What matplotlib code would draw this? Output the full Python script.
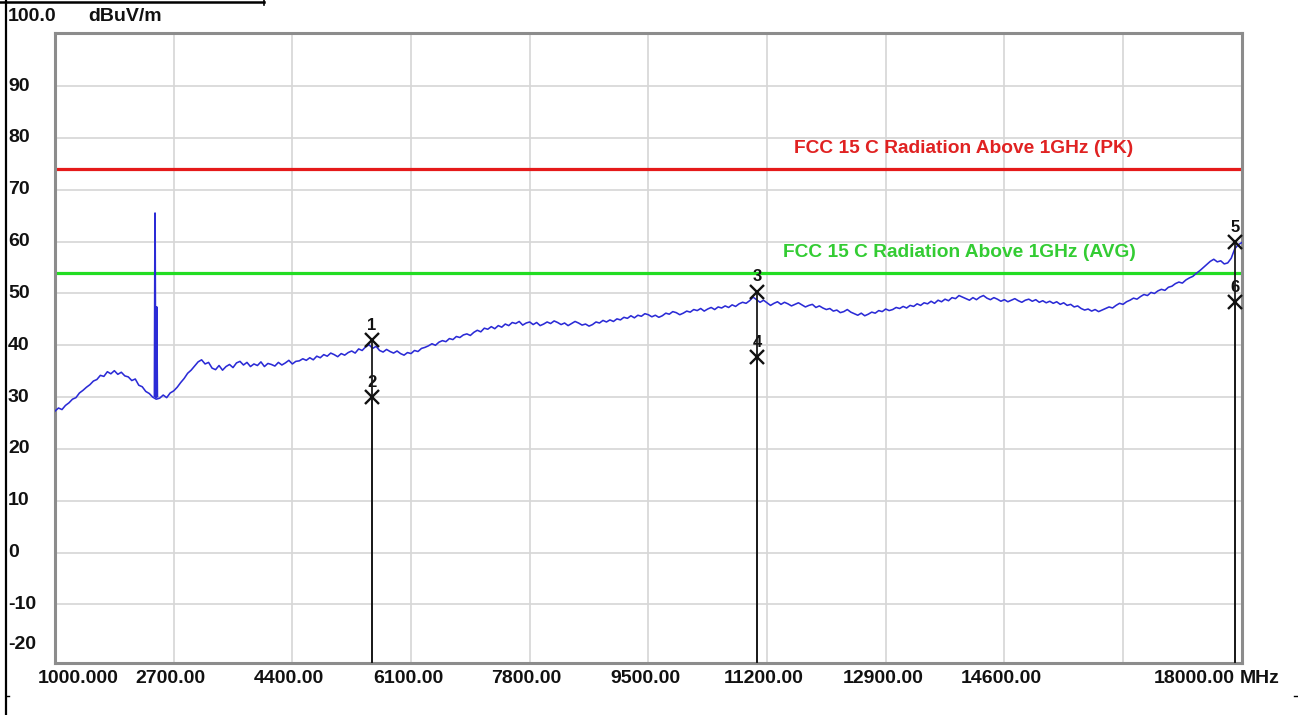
import numpy as np
import matplotlib
matplotlib.use("Agg")
import matplotlib.pyplot as plt
from matplotlib import font_manager
from matplotlib.lines import Line2D
from matplotlib.transforms import blended_transform_factory, ScaledTranslation

# ---- sweep data: field strength (dBuV/m), 1000..18000 MHz in 50 MHz steps ----
trace_level = [
    27.3, 27.9, 27.6, 28.4, 28.9, 29.6, 29.9, 30.8, 31.3, 31.9, 32.4, 33.1, 33.4, 34.2, 34.0, 34.9, 34.5, 35.1, 34.4, 34.8,
    34.1, 33.9, 33.2, 33.5, 32.3, 32.0, 31.1, 30.7, 30.0, 29.6, 29.8, 30.4, 29.9, 30.8, 31.2, 31.9, 32.8, 33.6, 34.6, 35.2,
    36.0, 36.8, 37.2, 36.4, 36.7, 35.6, 35.3, 36.1, 35.2, 35.9, 36.3, 35.7, 36.6, 36.9, 36.2, 36.7, 35.9, 36.4, 36.1, 36.8,
    35.9, 36.5, 36.3, 36.0, 36.7, 36.2, 36.6, 37.1, 36.4, 36.9, 37.0, 37.4, 37.1, 37.6, 37.2, 37.9, 37.6, 38.2, 37.9, 38.5,
    38.2, 37.8, 38.4, 38.1, 38.6, 38.9, 38.5, 39.3, 39.0, 39.7, 40.1, 39.4, 39.8, 39.0, 38.7, 39.2, 38.8, 38.5, 38.9, 38.4,
    38.1, 38.6, 38.4, 39.0, 38.8, 39.4, 39.6, 39.9, 40.3, 40.0, 40.6, 40.9, 40.7, 41.3, 41.1, 41.7, 41.5, 42.0, 42.2, 41.9,
    42.5, 42.9, 42.6, 43.3, 43.1, 43.6, 43.2, 43.8, 43.5, 44.1, 43.8, 44.4, 44.2, 44.6, 43.9, 44.3, 44.5, 44.0, 44.4, 43.8,
    44.1, 44.5, 44.2, 44.7, 44.4, 44.0, 44.3, 43.8, 44.2, 44.6, 44.3, 43.9, 44.1, 43.7, 44.0, 44.5, 44.3, 44.8, 44.5, 44.9,
    44.6, 45.1, 44.9, 45.4, 45.2, 45.7, 45.3, 45.8, 45.6, 46.1, 45.9, 45.5, 45.8, 45.4, 45.7, 46.2, 46.0, 46.5, 46.3, 45.9,
    46.2, 46.6, 46.4, 46.9, 46.7, 47.1, 46.6, 47.0, 47.3, 46.9, 47.4, 47.2, 47.6, 47.3, 47.8, 47.5, 48.0, 48.3, 48.1, 48.6,
    49.3, 48.8, 48.3, 48.7, 48.2, 47.7, 48.1, 48.4, 47.9, 48.3, 48.0, 47.6, 47.9, 48.2, 47.8, 47.4, 47.7, 47.9, 47.3, 47.6,
    47.2, 46.9, 47.1, 46.6, 46.8, 46.3, 46.5, 46.9, 46.4, 46.1, 45.8, 46.2, 45.7, 46.0, 46.4, 46.2, 46.7, 46.5, 47.0, 46.7,
    46.9, 47.3, 47.1, 47.5, 47.2, 47.7, 47.5, 48.0, 47.7, 48.2, 48.0, 48.5, 48.1, 48.7, 48.4, 48.9, 48.6, 49.2, 49.0, 49.6,
    49.3, 49.0, 48.7, 49.2, 48.8, 49.3, 49.6, 49.1, 48.8, 49.2, 48.9, 48.5, 48.8, 48.4, 48.7, 49.0, 48.6, 48.3, 48.7, 48.9,
    48.5, 48.8, 48.3, 48.6, 48.2, 48.5, 48.1, 48.4, 47.9, 48.2, 47.7, 47.9, 47.4, 47.6, 47.1, 46.8, 47.0, 46.6, 46.9, 46.5,
    46.8, 47.1, 47.4, 47.2, 47.7, 48.1, 47.9, 48.4, 48.7, 49.1, 48.9, 49.4, 49.8, 49.6, 50.2, 50.0, 50.5, 50.8, 50.6, 51.2,
    51.4, 51.9, 52.2, 52.0, 52.6, 53.0, 53.3, 53.9, 54.4, 55.0, 55.6, 56.2, 56.6, 56.1, 56.3, 55.7, 55.9, 56.8, 58.6, 59.4,
    59.8,
]
sweep_start = 1000.0
sweep_stop = 18000.0

# 2.4 GHz carrier spike
spike_freq = [2425, 2433, 2441, 2449, 2457, 2466]
spike_level = [30.2, 65.5, 30.3, 29.9, 47.4, 30.1]

# marker table
marker_id = ["1", "2", "3", "4", "5", "6"]
marker_freq = [5537, 5537, 11057, 11057, 17905, 17905]
marker_level = [41.0, 30.0, 50.3, 37.7, 59.9, 48.3]

# limit lines
pk_limit = 74.0
avg_limit = 54.0
pk_label = "FCC 15 C Radiation Above 1GHz (PK)"
avg_label = "FCC 15 C Radiation Above 1GHz (AVG)"

# axis labels
x_ticks = [1000, 2700, 4400, 6100, 7800, 9500, 11200, 12900, 14600, 16300, 18000]
x_tick_labels = ["1000.000", "2700.00", "4400.00", "6100.00", "7800.00", "9500.00",
                 "11200.00", "12900.00", "14600.00", "", "18000.00"]
y_ticks = [90, 80, 70, 60, 50, 40, 30, 20, 10, 0, -10]
y_tick_labels = ["90", "80", "70", "60", "50", "40", "30", "20", "10", "0", "-10"]
y_bottom_label = "-20"
y_top_label = "100.0"
y_unit = "dBuV/m"
x_unit = "MHz"

# ---- fonts ----
available = {f.name for f in font_manager.fontManager.ttflist}
base_font = "Liberation Sans" if "Liberation Sans" in available else "DejaVu Sans"
narrow_font = "Liberation Sans Narrow" if "Liberation Sans Narrow" in available else base_font
plt.rcParams["font.family"] = [base_font, "DejaVu Sans"]

W, H = 1298, 715
fig = plt.figure(figsize=(W / 100, H / 100), dpi=100)
fig.patch.set_facecolor("white")


def fx(px):
    return px / W


def fy(py):
    return 1 - py / H


def px_offset(dx, dy):
    return ScaledTranslation(dx / 100, dy / 100, fig.dpi_scale_trans)


ax = fig.add_axes([fx(55), fy(663), fx(1241.7) - fx(55), fy(33.3) - fy(663)])
ax.set_xlim(sweep_start, sweep_stop)
ax.set_ylim(-21.3, 100.2)
ax.set_xticks([])
ax.set_yticks([])
for s in ax.spines.values():
    s.set_color("#8c8c8c")
    s.set_linewidth(2.2)

grid_kw = dict(color="#d6d6d6", lw=1.2, zorder=0)
for f in x_ticks[1:-1]:
    ax.axvline(f, **grid_kw)
for v in y_ticks:
    ax.axhline(v, **grid_kw)

# limit lines and their captions
ax.axhline(pk_limit, color="#e51a1a", lw=2.3, zorder=2)
ax.axhline(avg_limit, color="#22dd22", lw=2.3, zorder=2)
lim_font = dict(family=[narrow_font, "DejaVu Sans"], weight="bold", fontsize=13.8)
ax.annotate(pk_label, (14022, pk_limit), xytext=(0, 20.5), textcoords="offset pixels",
            ha="center", va="center", color="#e02222", **lim_font)
ax.annotate(avg_label, (13950, avg_limit), xytext=(0, 20), textcoords="offset pixels",
            ha="center", va="center", color="#33cc33", **lim_font)

# measured trace
freq = np.linspace(sweep_start, sweep_stop, len(trace_level))
ax.plot(freq, trace_level, color="#2b2bd6", lw=1.15, zorder=3)
ax.plot(spike_freq, spike_level, color="#2b2bd6", lw=1.3, zorder=3)

# markers with drop lines
ax.vlines(marker_freq, -21.3, marker_level, color="#1a1a1a", lw=1.3, zorder=4)
ax.plot(marker_freq, marker_level, ls="none", marker="x", ms=9.5, mew=1.7,
        color="#111111", zorder=5)
for mid, f, v in zip(marker_id, marker_freq, marker_level):
    ax.annotate(mid, (f, v), xytext=(0, 15), textcoords="offset pixels",
                ha="center", va="center", fontsize=12, weight="bold", color="#111111")

# x tick labels
tick_font = dict(fontsize=14, weight="bold", color="#111111")
xb = blended_transform_factory(ax.transData, ax.transAxes)
for i, (f, lab) in enumerate(zip(x_ticks, x_tick_labels)):
    if not lab:
        continue
    if i == 0:
        ax.text(f, 0, lab, transform=xb + px_offset(-17, -15.5), ha="left", va="center", **tick_font)
    elif i == len(x_ticks) - 1:
        ax.text(f, 0, lab, transform=xb + px_offset(-6.5, -15.5), ha="right", va="center", **tick_font)
    else:
        ax.text(f, 0, lab, transform=xb + px_offset(-3, -15.5), ha="center", va="center", **tick_font)
ax.text(sweep_stop, 0, x_unit, transform=xb + px_offset(-1.5, -15.5), ha="left", va="center", **tick_font)

# y tick labels
yb = blended_transform_factory(fig.transFigure, ax.transData)
for v, lab in zip(y_ticks, y_tick_labels):
    ax.text(fx(8), v, lab, transform=yb, ha="left", va="center", **tick_font)
ax.text(fx(8), -20, y_bottom_label, transform=yb + px_offset(0, 11.8), ha="left", va="center", **tick_font)
fig.text(fx(8), fy(16.5), y_top_label, ha="left", va="center", **tick_font)
fig.text(fx(88), fy(16.5), y_unit, ha="left", va="center", **tick_font)

# outer cell border
border = dict(color="black", transform=fig.transFigure)
fig.add_artist(Line2D([fx(6), fx(6)], [fy(0), fy(715)], lw=1.6, **border))
fig.add_artist(Line2D([fx(0), fx(264)], [fy(1.5), fy(1.5)], lw=1.8, **border))
fig.add_artist(Line2D([fx(264), fx(264)], [fy(0), fy(5)], lw=1.2, **border))
fig.add_artist(Line2D([fx(6), fx(9)], [fy(696), fy(696)], lw=1.0, **border))
fig.add_artist(Line2D([fx(1294), fx(1298)], [fy(696), fy(696)], lw=1.0, **border))

fig.savefig("out.png", dpi=100)
